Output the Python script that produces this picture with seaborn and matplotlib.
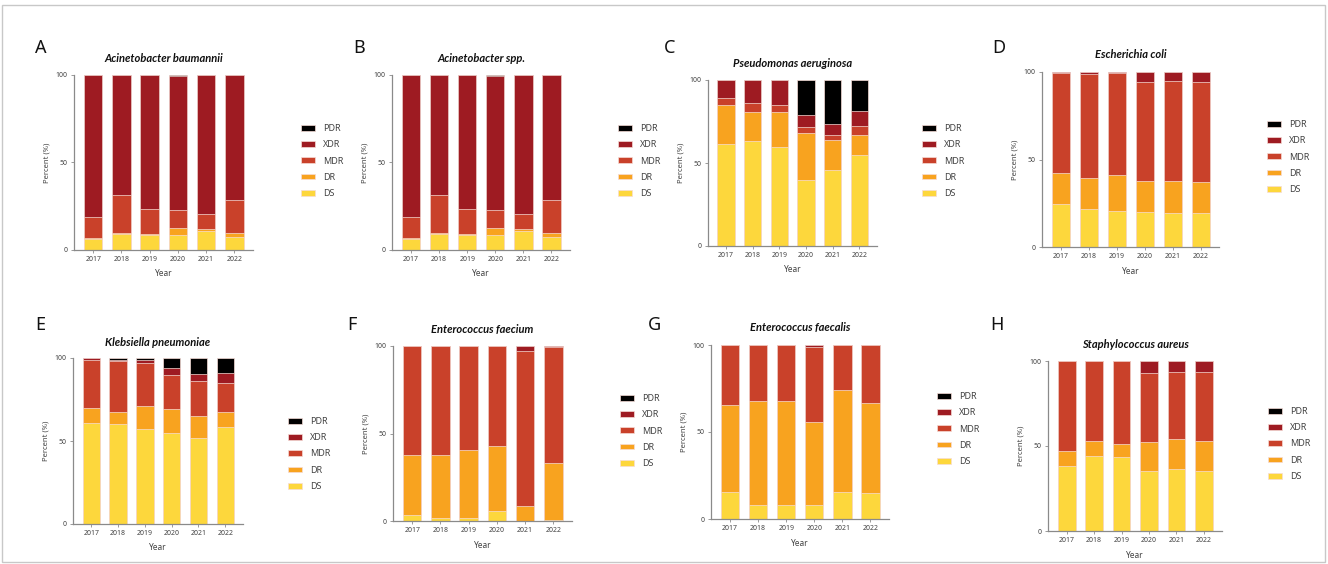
import numpy as np
import pandas as pd
import matplotlib
matplotlib.use("Agg")
import matplotlib.pyplot as plt
import seaborn as sns
from matplotlib.patches import Patch, Rectangle

# Data: percent of isolates in each resistance class, per year
years = ["2017", "2018", "2019", "2020", "2021", "2022"]
categories = ["DS", "DR", "MDR", "XDR", "PDR"]

baumannii = {
    "DS":  [6.5, 9.4, 8.4, 8.6, 10.7, 7.5],
    "DR":  [0.3, 0.2, 0.6, 4.0, 1.5, 2.3],
    "MDR": [12.1, 22.1, 14.7, 10.0, 8.4, 18.9],
    "XDR": [81.1, 68.3, 76.3, 76.8, 79.4, 71.3],
    "PDR": [0, 0, 0, 0.6, 0, 0],
}
acinetobacter_spp = {
    "DS":  [6.5, 9.4, 8.4, 8.6, 10.7, 7.5],
    "DR":  [0.3, 0.2, 0.6, 4.0, 1.5, 2.3],
    "MDR": [12.1, 22.1, 14.7, 10.0, 8.4, 18.9],
    "XDR": [81.1, 68.3, 76.3, 76.8, 79.4, 71.3],
    "PDR": [0, 0, 0, 0.6, 0, 0],
}
aeruginosa = {
    "DS":  [61.6, 63.3, 59.8, 39.8, 45.8, 54.8],
    "DR":  [23.5, 17.6, 21.1, 28.1, 18.1, 12.3],
    "MDR": [4.1, 5.2, 3.8, 3.8, 3.0, 5.4],
    "XDR": [10.8, 13.9, 15.3, 7.4, 6.4, 8.8],
    "PDR": [0, 0, 0, 20.9, 26.7, 18.7],
}
coli = {
    "DS":  [24.5, 21.6, 20.7, 20.1, 19.5, 19.5],
    "DR":  [17.6, 18.0, 20.2, 17.6, 18.0, 17.6],
    "MDR": [57.3, 59.1, 58.3, 56.4, 57.1, 57.4],
    "XDR": [0.6, 1.3, 0.8, 5.9, 5.4, 5.3],
    "PDR": [0, 0, 0, 0, 0, 0.2],
}
pneumoniae = {
    "DS":  [61.0, 60.0, 57.3, 55.1, 52.1, 58.6],
    "DR":  [9.0, 7.4, 13.5, 13.9, 13.1, 8.8],
    "MDR": [29.0, 30.6, 26.2, 20.9, 20.7, 17.5],
    "XDR": [1.0, 1.0, 1.8, 4.3, 4.2, 6.0],
    "PDR": [0, 1.0, 1.2, 5.8, 9.9, 9.1],
}
faecium = {
    "DS":  [3.6, 1.7, 1.7, 5.5, 0.2, 0.4],
    "DR":  [34.2, 36.1, 39.1, 37.2, 8.4, 33.0],
    "MDR": [62.2, 62.2, 59.2, 57.3, 88.3, 66.3],
    "XDR": [0, 0, 0, 0, 3.1, 0.3],
    "PDR": [0, 0, 0, 0, 0, 0],
}
faecalis = {
    "DS":  [15.5, 7.8, 7.8, 7.8, 15.8, 14.9],
    "DR":  [49.8, 59.9, 59.9, 48.1, 58.1, 51.5],
    "MDR": [34.7, 32.3, 32.3, 43.1, 26.1, 33.4],
    "XDR": [0, 0, 0, 1.0, 0, 0.2],
    "PDR": [0, 0, 0, 0, 0, 0],
}
aureus = {
    "DS":  [38.4, 44.3, 43.3, 35.3, 36.5, 35.1],
    "DR":  [8.5, 8.6, 7.7, 16.9, 17.6, 17.6],
    "MDR": [53.1, 47.1, 49.0, 40.5, 39.4, 40.6],
    "XDR": [0, 0, 0, 7.3, 6.5, 6.7],
    "PDR": [0, 0, 0, 0, 0, 0],
}

colors = {"DS": "#FDD73C", "DR": "#F8A31F", "MDR": "#C9412A",
          "XDR": "#9E1B22", "PDR": "#000000"}

W, H = 1328, 564

# letter, title, data, axes box (l, t, r, b px), title y, letter x/y, legend x/y
panels = [
    ("A", "Acinetobacter baumannii", baumannii, (74, 75, 253, 250), 59, (35, 48), (301, 161)),
    ("B", "Acinetobacter spp.", acinetobacter_spp, (392, 75, 570, 250), 59, (353, 48), (618, 161)),
    ("C", "Pseudomonas aeruginosa", aeruginosa, (708, 80, 877, 246), 64, (664, 48), (922, 161)),
    ("D", "Escherichia coli", coli, (1042, 72, 1219, 247), 55, (992, 48), (1267, 157)),
    ("E", "Klebsiella pneumoniae", pneumoniae, (73, 358, 243, 524), 342, (35, 325), (288, 454)),
    ("F", "Enterococcus faecium", faecium, (393, 346, 572, 521), 329, (347, 325), (620, 431)),
    ("G", "Enterococcus faecalis", faecalis, (711, 345, 889, 519), 328, (648, 325), (937, 429)),
    ("H", "Staphylococcus aureus", aureus, (1048, 361, 1222, 531), 345, (990, 325), (1268, 444)),
]

sns.set_theme(style="white")
plt.rcParams["font.family"] = ["Noto Sans", "DejaVu Sans"]

fig = plt.figure(figsize=(W / 100, H / 100), dpi=100)
fig.patches.append(Rectangle((2 / W, 2 / H), 1 - 5 / W, 1 - 7 / H, transform=fig.transFigure,
                             fill=False, edgecolor="#c8c8c8", linewidth=1.0))

axis_color = "#8a8a8a"
text_color = "#444444"

for letter, title, data, (l, t, r, b), ty, (lx, ly), (gx, gy) in panels:
    ax = fig.add_axes([l / W, 1 - b / H, (r - l) / W, (b - t) / H])
    df = pd.DataFrame(data, index=years)[categories]
    cum = df.cumsum(axis=1)
    # draw cumulative tops, tallest first, so each segment shows through
    for cat in categories[::-1]:
        sub = pd.DataFrame({"Year": years, "value": cum[cat].values})
        sns.barplot(data=sub, x="Year", y="value", color=colors[cat], width=0.65,
                    saturation=1, edgecolor="#f6dcd6", linewidth=0.5, ax=ax)
    ax.set_ylim(0, 100)
    ax.set_xlim(-0.68, 5.66)
    ax.set_yticks([0, 50, 100])
    ax.set_yticklabels(["0", "50", "100"])
    ax.tick_params(axis="both", labelsize=5, colors=text_color, length=2.5, width=0.6,
                   pad=2, bottom=True, left=True, direction="out")
    ax.tick_params(axis="both", color=axis_color)
    for side in ["top", "right"]:
        ax.spines[side].set_visible(False)
    for side in ["left", "bottom"]:
        ax.spines[side].set_color(axis_color)
        ax.spines[side].set_linewidth(0.9)
    ax.set_xlabel("Year", fontsize=6, color=text_color, labelpad=4.5)
    ax.set_ylabel("Percent (%)", fontsize=5.5, color=text_color, labelpad=4)

    fig.text((l + r) / 2 / W, 1 - ty / H, title, ha="center", va="center",
             fontsize=8, fontweight="bold", fontstyle="italic", color="#111111",
             family=["Lato", "DejaVu Sans"])
    fig.text(lx / W, 1 - ly / H, letter, ha="left", va="center", fontsize=13, color="#111111")

    handles = [Patch(facecolor=colors[c], edgecolor="#f6dcd6", linewidth=0.5, label=c)
               for c in categories[::-1]]
    fig.legend(handles=handles, loc="center left", bbox_to_anchor=(gx / W, 1 - gy / H),
               frameon=False, fontsize=6.5, handlelength=1.6, handleheight=0.6,
               handletextpad=0.85, labelspacing=0.8, borderpad=0, borderaxespad=0,
               labelcolor=text_color)

fig.savefig("out.png", dpi=100)
